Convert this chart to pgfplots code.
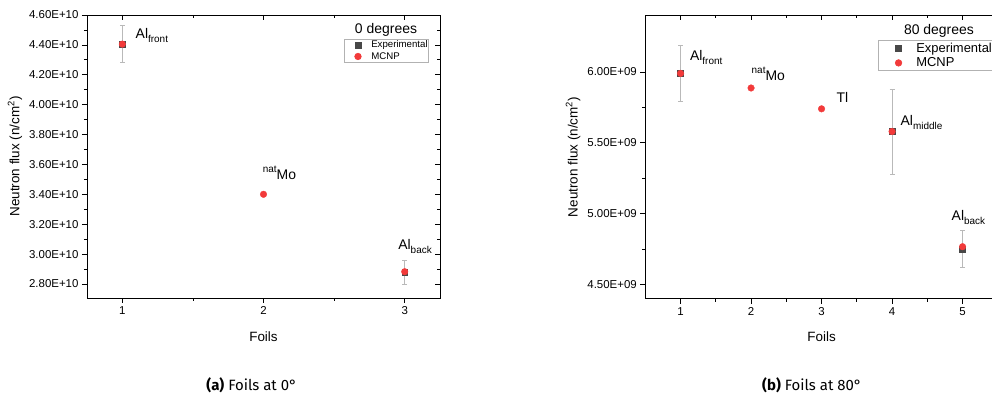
\documentclass[border=0pt]{standalone}
\usepackage{fontspec}
\setmainfont{Liberation Sans}
\newfontfamily\capfont{Fira Sans}
\usepackage{pgfplots}
\usepackage{pgfplotstable}
\pgfplotsset{compat=1.18}
\definecolor{mcnp}{RGB}{242,58,58}
\definecolor{expc}{RGB}{72,72,72}
\definecolor{errc}{RGB}{185,185,185}
\newcommand\lsub[1]{\raisebox{-0.28em}{\fontsize{10}{10}\selectfont #1}}
\newcommand\lsup[1]{\raisebox{0.5em}{\fontsize{10}{10}\selectfont #1}}

\pgfplotstableread{
x y err
1 4.405e10 0.125e10
3 2.878e10 0.08e10
}\expA
\pgfplotstableread{
x y
1 4.405e10
2 3.400e10
3 2.882e10
}\mcnpA
\pgfplotstableread{
x y err
1 5.99e9 0.20e9
4 5.58e9 0.30e9
5 4.75e9 0.13e9
}\expB
\pgfplotstableread{
x y
1 5.99e9
2 5.887e9
3 5.74e9
4 5.58e9
5 4.767e9
}\mcnpB

\tikzset{lab/.style={anchor=base west, font=\fontsize{14}{14}\selectfont}}
\pgfplotsset{
 base/.style={scale only axis, clip=false,
   scaled y ticks=false, scaled x ticks=false,
   axis line style={black, line width=0.9bp},
   tick style={black, line width=0.7bp},
   major tick length=5bp, minor tick length=3bp,
   minor x tick num=1, minor y tick num=1,
   /pgf/number format/assume math mode=true,
   ticklabel style={font=\fontsize{11.5}{12}\selectfont},
   label style={font=\fontsize{13.5}{14}\selectfont}},
 main/.style={base, tick align=outside, xtick pos=left, ytick pos=left},
 mirror/.style={base, tick align=inside, xtick pos=right, ytick pos=right,
   xticklabels={}, yticklabels={}},
 expst/.style={only marks, mark=square*, mark size=2.9bp, color=expc,
   mark options={fill=expc, draw=expc},
   error bars/.cd, y dir=both, y explicit,
   error bar style={errc, line width=0.8bp},
   error mark options={rotate=90, mark size=2.5bp, errc, line width=0.8bp}},
 mcnpst/.style={only marks, mark=*, mark size=3.3bp, color=mcnp,
   mark options={fill=mcnp, draw=mcnp}},
}

\begin{document}
\begin{tikzpicture}
\path[use as bounding box, clip] (0,0) rectangle (992bp,402bp);

% ---------- left plot ----------
\begin{axis}[main, at={(87bp,104bp)}, width=353bp, height=283bp,
  xmin=0.75, xmax=3.25, ymin=2.706e10, ymax=4.6e10,
  xtick={1,2,3},
  ytick={2.8e10,3.0e10,3.2e10,3.4e10,3.6e10,3.8e10,4.0e10,4.2e10,4.4e10,4.6e10},
  yticklabels={2.80E+10,3.00E+10,3.20E+10,3.40E+10,3.60E+10,3.80E+10,4.00E+10,4.20E+10,4.40E+10,4.60E+10},
  xlabel={Foils}, ylabel={Neutron flux (n/cm\textsuperscript{2})},
  xlabel style={at={(rel axis cs:0.5,-0.136)}, anchor=center},
  ylabel style={at={(rel axis cs:-0.204,0.5)}, anchor=center},
  legend style={at={(rel axis cs:0.728,0.915)}, anchor=north west,
    draw=gray!60, line width=0.6bp, font=\fontsize{9.7}{10}\selectfont,
    inner xsep=1bp, inner ysep=1.5bp, row sep=3bp, column sep=0bp,
    nodes={inner sep=0bp}, legend cell align=left},
  legend image code/.code={\path[draw=none, fill=none] (0bp,-3bp) rectangle (26bp,3bp);
    \draw[#1] plot coordinates {(12.7bp,0bp)};},
]
\addplot+[expst] table[x=x, y=y, y error=err] {\expA};
\addlegendentry{Experimental}
\addplot+[mcnpst] table[x=x, y=y] {\mcnpA};
\addlegendentry{MCNP}
\node[lab] at (axis cs:1.07,4.44e10) {Al\lsub{front}};
\node[lab] at (axis cs:1.97,3.496e10) {\lsup{nat}Mo};
\node[lab] at (axis cs:2.93,3.028e10) {Al\lsub{back}};
\node[anchor=base, font=\fontsize{14}{14}\selectfont] at (rel axis cs:0.847,0.933) {0 degrees};
\end{axis}
\begin{axis}[mirror, at={(87bp,104bp)}, width=353bp, height=283bp,
  xmin=0.75, xmax=3.25, ymin=2.706e10, ymax=4.6e10,
  xtick={1,2,3},
  ytick={2.8e10,3.0e10,3.2e10,3.4e10,3.6e10,3.8e10,4.0e10,4.2e10,4.4e10,4.6e10}]
\end{axis}

% ---------- right plot ----------
\begin{axis}[main, at={(645.3bp,103.3bp)}, width=352.5bp, height=283.4bp,
  xmin=0.5, xmax=5.5, ymin=4.40e9, ymax=6.40e9,
  xtick={1,2,3,4,5},
  ytick={4.5e9,5.0e9,5.5e9,6.0e9},
  yticklabels={4.50E+09,5.00E+09,5.50E+09,6.00E+09},
  xlabel={Foils}, ylabel={Neutron flux (n/cm\textsuperscript{2})},
  xlabel style={at={(rel axis cs:0.5,-0.133)}, anchor=center},
  ylabel style={at={(rel axis cs:-0.205,0.5)}, anchor=center},
  legend style={at={(rel axis cs:0.66,0.913)}, anchor=north west,
    draw=gray!60, line width=0.6bp, font=\fontsize{13}{13}\selectfont,
    inner xsep=3bp, inner ysep=2.5bp, row sep=4bp, column sep=0bp,
    nodes={inner sep=0bp}, legend cell align=left},
  legend image code/.code={\path[draw=none, fill=none] (0bp,-3bp) rectangle (35bp,3bp);
    \draw[#1] plot coordinates {(17.3bp,0bp)};},
]
\addplot+[expst] table[x=x, y=y, y error=err] {\expB};
\addlegendentry{Experimental}
\addplot+[mcnpst] table[x=x, y=y] {\mcnpB};
\addlegendentry{MCNP}
\node[lab] at (axis cs:1.085,6.08e9) {Al\lsub{front}};
\node[lab] at (axis cs:1.959,5.937e9) {\lsup{nat}Mo};
\node[lab] at (axis cs:3.165,5.788e9) {Tl};
\node[lab] at (axis cs:4.072,5.619e9) {Al\lsub{middle}};
\node[lab] at (axis cs:4.796,4.951e9) {Al\lsub{back}};
\node[anchor=base, font=\fontsize{14}{14}\selectfont] at (rel axis cs:0.833,0.934) {80 degrees};
\end{axis}
\begin{axis}[mirror, at={(645.3bp,103.3bp)}, width=352.5bp, height=283.4bp,
  xmin=0.5, xmax=5.5, ymin=4.40e9, ymax=6.40e9,
  xtick={1,2,3,4,5},
  ytick={4.5e9,5.0e9,5.5e9,6.0e9}]
\end{axis}

% ---------- captions ----------
\node[anchor=base, font=\capfont\fontsize{15}{16}\selectfont] at (251.7bp,11.3bp) {{\bfseries (a)} Foils at 0°};
\node[anchor=base, font=\capfont\fontsize{15}{16}\selectfont] at (812bp,11.3bp) {{\bfseries (b)} Foils at 80°};
\end{tikzpicture}
\end{document}
